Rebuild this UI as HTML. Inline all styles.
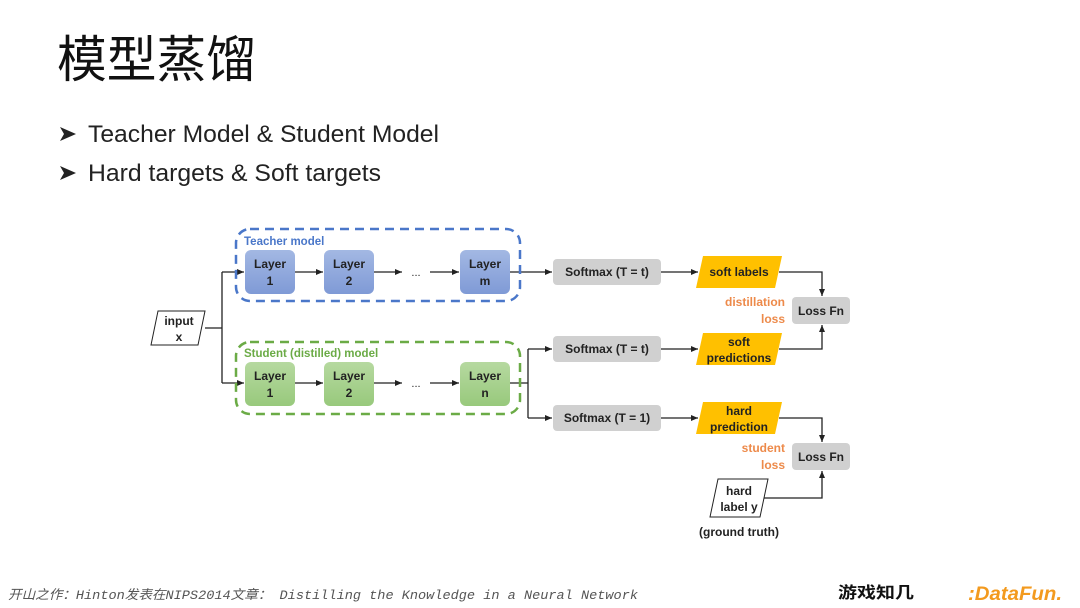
<!DOCTYPE html>
<html><head><meta charset="utf-8"><style>
body{margin:0;width:1080px;height:608px;background:#fff;overflow:hidden;font-family:"Liberation Sans","Noto Sans CJK SC",sans-serif}
svg{position:absolute;left:0;top:0}
</style></head><body>
<svg width="1080" height="608" viewBox="0 0 1080 608" font-family="Liberation Sans, Noto Sans CJK SC, sans-serif">
<defs>
<marker id="a" markerWidth="8" markerHeight="8" refX="7" refY="4" orient="auto" markerUnits="userSpaceOnUse"><path d="M0,1 L7,4 L0,7z" fill="#222"/></marker>
<linearGradient id="gb" x1="0" y1="0" x2="0" y2="1"><stop offset="0" stop-color="#a3b8e3"/><stop offset="1" stop-color="#7f9ad6"/></linearGradient>
<linearGradient id="gg" x1="0" y1="0" x2="0" y2="1"><stop offset="0" stop-color="#b6d9a0"/><stop offset="1" stop-color="#98c97c"/></linearGradient>
</defs>
<text x="57" y="77" font-size="50" fill="#111" font-family="Noto Sans CJK SC, sans-serif" textLength="199" lengthAdjust="spacingAndGlyphs">模型蒸馏</text>
<path d="M60,127 L76,134 L60,141 L64,134z" fill="#222"/>
<text x="88" y="142" font-size="24" fill="#222" textLength="351" lengthAdjust="spacingAndGlyphs">Teacher Model &amp; Student Model</text>
<path d="M60,166 L76,173 L60,180 L64,173z" fill="#222"/>
<text x="88" y="181" font-size="24" fill="#222" textLength="293" lengthAdjust="spacingAndGlyphs">Hard targets &amp; Soft targets</text>

<g stroke="#222" stroke-width="1.3" fill="none">
<path d="M205,328 H222 M222,272 V383"/>
<path d="M222,272 H244" marker-end="url(#a)"/><path d="M222,383 H244" marker-end="url(#a)"/>
<path d="M295,272 H323" marker-end="url(#a)"/><path d="M374,272 H402" marker-end="url(#a)"/><path d="M430,272 H459" marker-end="url(#a)"/>
<path d="M295,383 H323" marker-end="url(#a)"/><path d="M374,383 H402" marker-end="url(#a)"/><path d="M430,383 H459" marker-end="url(#a)"/>
<path d="M510,272 H552" marker-end="url(#a)"/>
<path d="M510,383 H528 M528,349 V418"/>
<path d="M528,349 H552" marker-end="url(#a)"/><path d="M528,418 H552" marker-end="url(#a)"/>
<path d="M661,272 H698" marker-end="url(#a)"/><path d="M661,349 H698" marker-end="url(#a)"/><path d="M661,418 H698" marker-end="url(#a)"/>
<path d="M779,272 H822 V296" marker-end="url(#a)"/>
<path d="M779,349 H822 V325" marker-end="url(#a)"/>
<path d="M779,418 H822 V442" marker-end="url(#a)"/>
<path d="M764,498 H822 V471" marker-end="url(#a)"/>
</g>

<rect x="236" y="229" width="284" height="72" rx="14" fill="none" stroke="#4a77c9" stroke-width="2.5" stroke-dasharray="9,6"/>
<rect x="236" y="342" width="284" height="72" rx="14" fill="none" stroke="#6bab46" stroke-width="2.5" stroke-dasharray="9,6"/>
<text x="244" y="245" font-size="11.5" font-weight="bold" fill="#4a77c9">Teacher model</text>
<text x="244" y="357" font-size="11.5" font-weight="bold" fill="#6bab46">Student (distilled) model</text>

<g font-size="12" font-weight="bold" fill="#222" text-anchor="middle">
<rect x="245" y="250" width="50" height="44" rx="6" fill="url(#gb)"/><text x="270" y="268">Layer</text><text x="270" y="285">1</text>
<rect x="324" y="250" width="50" height="44" rx="6" fill="url(#gb)"/><text x="349" y="268">Layer</text><text x="349" y="285">2</text>
<rect x="460" y="250" width="50" height="44" rx="6" fill="url(#gb)"/><text x="485" y="268">Layer</text><text x="485" y="285">m</text>
<rect x="245" y="362" width="50" height="44" rx="6" fill="url(#gg)"/><text x="270" y="380">Layer</text><text x="270" y="397">1</text>
<rect x="324" y="362" width="50" height="44" rx="6" fill="url(#gg)"/><text x="349" y="380">Layer</text><text x="349" y="397">2</text>
<rect x="460" y="362" width="50" height="44" rx="6" fill="url(#gg)"/><text x="485" y="380">Layer</text><text x="485" y="397">n</text>
<text x="416" y="276" font-weight="normal" font-size="11">...</text>
<text x="416" y="387" font-weight="normal" font-size="11">...</text>

<path d="M158,311 H205 L198,345 H151z" fill="#fff" stroke="#222" stroke-width="1"/>
<text x="179" y="325">input</text><text x="179" y="341">x</text>

<rect x="553" y="259" width="108" height="26" rx="4" fill="#d0d0d0"/><text x="607" y="276">Softmax (T = t)</text>
<rect x="553" y="336" width="108" height="26" rx="4" fill="#d0d0d0"/><text x="607" y="353">Softmax (T = t)</text>
<rect x="553" y="405" width="108" height="26" rx="4" fill="#d0d0d0"/><text x="607" y="422">Softmax (T = 1)</text>

<path d="M703,256 H782 L775,288 H696z" fill="#ffc000"/><text x="739" y="276">soft labels</text>
<path d="M703,333 H782 L775,365 H696z" fill="#ffc000"/><text x="739" y="346">soft</text><text x="739" y="362">predictions</text>
<path d="M703,402 H782 L775,434 H696z" fill="#ffc000"/><text x="739" y="415">hard</text><text x="739" y="431">prediction</text>

<rect x="792" y="297" width="58" height="27" rx="4" fill="#d0d0d0"/><text x="821" y="315">Loss Fn</text>
<rect x="792" y="443" width="58" height="27" rx="4" fill="#d0d0d0"/><text x="821" y="461">Loss Fn</text>

<path d="M718,479 H768 L760,517 H710z" fill="#fff" stroke="#222" stroke-width="1"/>
<text x="739" y="495">hard</text><text x="739" y="511">label y</text>
<text x="739" y="536">(ground truth)</text>
</g>
<g font-size="12" font-weight="bold" fill="#ed8a4a" text-anchor="end">
<text x="785" y="306">distillation</text><text x="785" y="323">loss</text>
<text x="785" y="452">student</text><text x="785" y="469">loss</text>
</g>
<text x="8" y="599" font-size="13" font-style="italic" fill="#555" font-family="Liberation Mono, Noto Sans CJK SC, monospace" textLength="630" lengthAdjust="spacingAndGlyphs">开山之作：Hinton发表在NIPS2014文章： Distilling the Knowledge in a Neural Network</text>
<text x="838" y="598" font-size="16" font-weight="bold" fill="#111" font-family="Noto Sans CJK SC, sans-serif" textLength="76" lengthAdjust="spacingAndGlyphs">游戏知几</text>
<text x="968" y="600" font-size="19" font-weight="bold" font-style="italic" fill="#f39a1e" textLength="94" lengthAdjust="spacingAndGlyphs">:DataFun.</text>
</svg>
</body></html>
